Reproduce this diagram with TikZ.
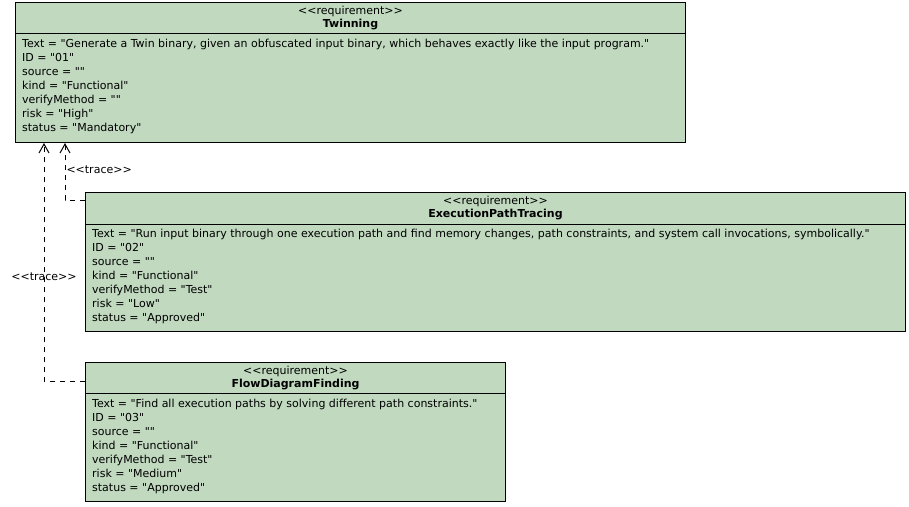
\documentclass[tikz,border=0pt]{standalone}
\usepackage{fontspec}
\setmainfont{DejaVu Sans}[Ligatures=TeXOff]
\usetikzlibrary{arrows.meta, positioning, calc}
\definecolor{reqgreen}{RGB}{192,217,191}

\begin{document}
\begin{tikzpicture}[x=1pt, y=-1pt,
    reqbox/.style={draw=black, fill=reqgreen, line width=1pt, anchor=north west, inner sep=0pt},
    headtext/.style={align=center, font=\fontsize{11}{13}\selectfont, inner sep=0pt, anchor=north},
    bodytext/.style={align=left, font=\fontsize{11}{14}\selectfont, inner sep=0pt, anchor=north west},
    trace/.style={line width=1pt, dash pattern=on 5pt off 5pt, -{Straight Barb[length=9pt, width=10pt]}},
    tracelabel/.style={font=\fontsize{11}{13}\selectfont, inner sep=1pt},
  ]
  \useasboundingbox (0,0) rectangle (909,506);

  % Twinning
  \node[reqbox, minimum width=670pt, minimum height=140pt] (twin) at (15,2) {};
  \draw[line width=1pt] ($(twin.north west)+(0,31)$) -- ($(twin.north east)+(0,31)$);
  \node[headtext] (twin-head) at ($(twin.north)+(0,4)$) {<<requirement>>\\\textbf{Twinning}};
  \node[bodytext] (twin-body) at ($(twin.north west)+(7,36.5)$) {Text = "Generate a Twin binary, given an obfuscated input binary, which behaves exactly like the input program."\\
    ID = "01"\\ source = ""\\ kind = "Functional"\\ verifyMethod = ""\\ risk = "High"\\ status = "Mandatory"};

  % ExecutionPathTracing
  \node[reqbox, minimum width=820pt, minimum height=139pt] (ept) at (85,192) {};
  \draw[line width=1pt] ($(ept.north west)+(0,32)$) -- ($(ept.north east)+(0,32)$);
  \node[headtext] (ept-head) at ($(ept.north)+(0,4)$) {<<requirement>>\\\textbf{ExecutionPathTracing}};
  \node[bodytext] (ept-body) at ($(ept.north west)+(7,36.5)$) {Text = "Run input binary through one execution path and find memory changes, path constraints, and system call invocations, symbolically."\\
    ID = "02"\\ source = ""\\ kind = "Functional"\\ verifyMethod = "Test"\\ risk = "Low"\\ status = "Approved"};

  % FlowDiagramFinding
  \node[reqbox, minimum width=420pt, minimum height=139pt] (fdf) at (85,362) {};
  \draw[line width=1pt] ($(fdf.north west)+(0,31)$) -- ($(fdf.north east)+(0,31)$);
  \node[headtext] (fdf-head) at ($(fdf.north)+(0,4)$) {<<requirement>>\\\textbf{FlowDiagramFinding}};
  \node[bodytext] (fdf-body) at ($(fdf.north west)+(7,36.5)$) {Text = "Find all execution paths by solving different path constraints."\\
    ID = "03"\\ source = ""\\ kind = "Functional"\\ verifyMethod = "Test"\\ risk = "Medium"\\ status = "Approved"};

  % trace links
  \coordinate (twin-a) at ($(twin.south west)+(50,0)$);
  \coordinate (twin-b) at ($(twin.south west)+(29,0)$);
  \coordinate (ept-in) at ($(ept.north west)+(0,8)$);
  \coordinate (fdf-in) at ($(fdf.north west)+(0,19)$);

  \draw[trace] (ept-in) -| (twin-a) node[tracelabel, pos=0.77, anchor=west] (trace-a) {<<trace>>};
  \draw[trace] (fdf-in) -| (twin-b) node[tracelabel, pos=0.72] (trace-b) {<<trace>>};
\end{tikzpicture}
\end{document}
